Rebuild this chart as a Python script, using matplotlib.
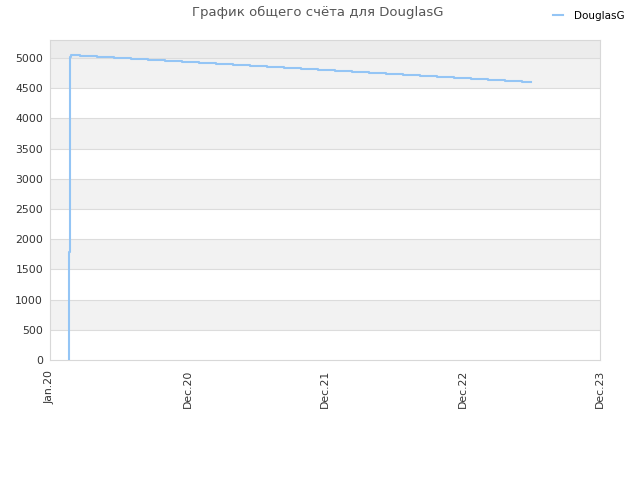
import matplotlib
matplotlib.use('Agg')
import matplotlib.pyplot as plt

# x in "tick units": 0 = Jan.20, 1 = Dec.20, ... 4 = Dec.23 (ticks evenly spaced)
tick_labels = ['Jan.20', 'Dec.20', 'Dec.21', 'Dec.22', 'Dec.23']
step_x = [0.136, 0.136, 0.144, 0.153, 0.218, 0.342, 0.465, 0.589, 0.713, 0.836,
          0.960, 1.084, 1.207, 1.331, 1.455, 1.578, 1.702, 1.825, 1.949, 2.073,
          2.196, 2.320, 2.444, 2.567, 2.691, 2.815, 2.938, 3.062, 3.185, 3.309,
          3.433, 3.498]
step_y = [0, 1790, 5025, 5050, 5033, 5017, 5000, 4984, 4967, 4950, 4933,
          4917, 4900, 4883, 4866, 4849, 4833, 4816, 4799, 4782, 4765, 4749,
          4732, 4715, 4698, 4681, 4665, 4648, 4631, 4614, 4606, 4606]
series_name = 'DouglasG'

plt.rcParams['font.family'] = ['DejaVu Sans']

fig = plt.figure(figsize=(6.4, 4.8), dpi=100)
ax = fig.add_axes([50 / 640, 1 - 360 / 480, 550 / 640, 320 / 480])

ymax = 5300
# alternating bands
for i, lo in enumerate(range(0, 5000, 500)):
    ax.axhspan(lo, lo + 500, color='#f2f2f2' if i % 2 else 'white', lw=0, zorder=0)
ax.axhspan(5000, ymax, color='#ececec', lw=0, zorder=0)
for v in range(500, 5001, 500):
    ax.axhline(v, color='#dcdcdc', lw=0.8, zorder=1)

ax.plot(step_x, step_y, drawstyle='steps-post', color='#94c5f5', lw=1.5,
        label=series_name, zorder=3)

ax.set_xlim(0, 4)
ax.set_ylim(0, ymax)
ax.set_xticks(range(len(tick_labels)))
ax.set_xticklabels(tick_labels, rotation=90, fontsize=7.8, color='#333333')
ax.set_yticks(range(0, 5001, 500))
ax.set_yticklabels([str(v) for v in range(0, 5001, 500)], fontsize=7.8, color='#333333')
ax.tick_params(length=0)
ax.tick_params(axis='x', pad=7)
ax.tick_params(axis='y', pad=5)
for s in ax.spines.values():
    s.set_color('#d8d8d8')
    s.set_linewidth(0.8)

fig.text(0.497, 0.973, 'График общего счёта для DouglasG', ha='center', va='center',
         fontsize=9.5, color='#555555')
leg = fig.legend(loc='center', bbox_to_anchor=(0.92, 0.967), frameon=False,
                 fontsize=7.5, handlelength=1.0, handletextpad=1.0)

fig.savefig('out.png', dpi=100)
